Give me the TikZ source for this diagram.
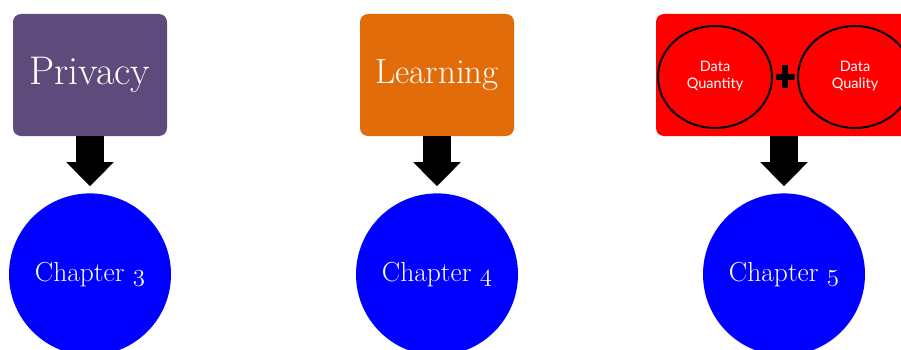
\documentclass[tikz,border=0pt]{standalone}
\usepackage{fontspec}
\usepackage{tikz}
\usetikzlibrary{positioning,arrows.meta,shapes.geometric}
\newfontfamily\avenir{Lato}
\newcommand{\osf}[1]{{\usefont{OML}{cmm}{m}{it}#1}}
\newcommand{\twolines}[2]{\raisebox{-2pt}{\begin{tabular}{@{}c@{}}#1\\#2\end{tabular}}}
\definecolor{privacycol}{HTML}{5F4B7B}
\definecolor{learncol}{HTML}{E36C0A}

\begin{document}
\begin{tikzpicture}[
  x=1pt, y=-1pt,
  topic/.style={rounded corners=8pt, minimum width=154pt, minimum height=122pt,
                align=center, text=white, font=\fontsize{40}{48}\selectfont},
  chapter/.style={circle, fill=blue, minimum size=162pt, inner sep=0pt,
                  text=white, font=\fontsize{27.5}{33}\selectfont},
  part/.style={ellipse, draw, line width=2pt, minimum width=114pt, minimum height=102pt,
               inner sep=0pt, align=center, text=white, font=\avenir\fontsize{14.5}{17}\selectfont},
  plus/.style={minimum width=19pt, minimum height=23pt, inner sep=0pt,
               path picture={\draw[line width=6.5pt]
                 (path picture bounding box.north) -- (path picture bounding box.south)
                 (path picture bounding box.west) -- (path picture bounding box.east);}},
  feed/.style={line width=28pt, -{Triangle[length=24pt, width=46pt]}, shorten >=7pt}
]
  \useasboundingbox (0,0) rectangle (901,350);
  \clip (0,0) rectangle (901,350);

  % topics
  \node[topic, fill=privacycol] (privacy) at (90,75)  {Privacy};
  \node[topic, fill=learncol, font=\fontsize{35}{42}\selectfont] (learning) at (437,75) {Learning};
  \node[topic, fill=red, minimum width=256pt] (data) at (784,75) {};

  % data = quantity + quality
  \node[part] (quantity) at (715,77) {\twolines{Data}{Quantity}};
  \node[part, right=24pt of quantity] (quality) {\twolines{Data}{Quality}};
  \node[plus] (sum) at (785,77) {};

  % chapters
  \node[chapter, below=57pt of privacy]  (ch3) {Chapter \osf{3}};
  \node[chapter, below=57pt of learning] (ch4) {Chapter \osf{4}};
  \node[chapter, below=57pt of data]     (ch5) {Chapter \osf{5}};

  \draw[feed] (privacy) -- (ch3);
  \draw[feed] (learning) -- (ch4);
  \draw[feed] (data) -- (ch5);
\end{tikzpicture}
\end{document}
